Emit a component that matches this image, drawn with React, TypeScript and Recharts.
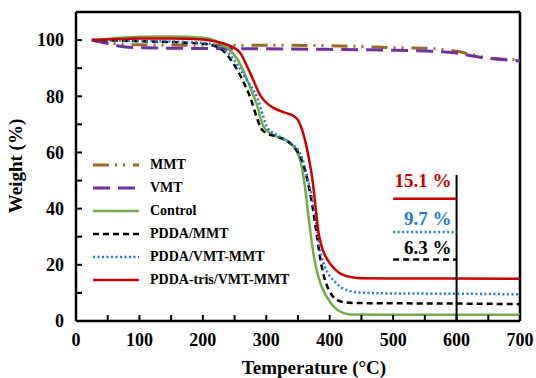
import { LineChart, Line, XAxis, YAxis, ReferenceLine } from "recharts";

// TGA curves, temperature (°C) vs weight (%)
const mmtTemp = [25, 50, 75, 100, 200, 300, 400, 450, 500, 550, 600, 625, 650, 675, 700];
const mmtWeight = [100, 99, 98.5, 98.3, 98.2, 98.2, 98, 97.7, 97.3, 97.1, 96, 94.8, 93.6, 93.2, 93];

const vmtTemp = [25, 50, 75, 100, 200, 300, 400, 500, 550, 600, 625, 650, 675, 700];
const vmtWeight = [100, 98.8, 97.6, 97.3, 97, 96.9, 96.7, 96.4, 96.1, 95.4, 94.3, 93.5, 93, 92.6];

const controlTemp = [25, 50, 100, 150, 200, 220, 240, 255, 265, 275, 285, 295, 305, 315, 330, 345, 355, 362, 366, 370, 374, 379, 386, 397, 410, 422, 435, 500, 600, 700];
const controlWeight = [100, 100.4, 101.2, 101.3, 100.8, 99.8, 97, 93, 88.5, 83, 77, 69.5, 67, 65.8, 64.5, 61.5, 56, 46, 38, 31, 24.5, 18.5, 13, 8, 4.3, 2.8, 2.3, 2.2, 2.2, 2.2];

const pddaMmtTemp = [25, 50, 100, 150, 200, 220, 235, 250, 262, 275, 285, 292, 302, 315, 325, 340, 350, 358, 365, 372, 380, 386, 392, 400, 412, 425, 440, 500, 600, 700];
const pddaMmtWeight = [100, 99.9, 99.6, 99.3, 98.7, 97.8, 95.5, 91, 86, 79.4, 72.5, 68.5, 66.7, 65.7, 64.9, 62.8, 60, 56, 50, 42, 30, 21, 15, 10.5, 7.4, 6.6, 6.4, 6.3, 6.2, 6.0];

const pddaVmtTemp = [25, 50, 100, 150, 200, 220, 240, 255, 270, 286, 295, 302, 315, 327, 340, 351, 358, 365, 372, 378, 385, 393, 400, 406, 418, 428, 440, 460, 500, 600, 700];
const pddaVmtWeight = [100, 99.9, 99.7, 99.5, 99, 98.2, 95.5, 91, 85.5, 79.4, 73, 68.8, 66.5, 65, 63, 60.6, 57, 51, 44, 36, 25, 19, 16, 14.5, 12, 11, 10.3, 10, 9.8, 9.7, 9.5];

const trisTemp = [25, 50, 100, 150, 200, 220, 240, 259, 270, 280, 290, 302, 312, 322, 333, 343, 350, 357, 362, 367, 373, 378, 382, 388, 397, 408, 422, 435, 449, 500, 600, 700];
const trisWeight = [100, 100.2, 100.6, 100.6, 100.2, 99.5, 98.2, 95.4, 90.5, 85.5, 80.5, 77.3, 75.8, 74.8, 73.9, 73, 71.5, 67.7, 63.5, 58, 50, 40, 32, 26, 21.6, 18.5, 16.3, 15.6, 15.2, 15.1, 15.1, 15.0];

// residue markers at 600 °C
const residueLabels = ["15.1 %", "9.7 %", "6.3 %"];
const residueMarkY = [43.5, 31.7, 21.9];

const xTicks = [0, 50, 100, 150, 200, 250, 300, 350, 400, 450, 500, 550, 600, 650, 700];
const yTicks = [0, 10, 20, 30, 40, 50, 60, 70, 80, 90, 100];

const FONT = "'Liberation Serif', 'Times New Roman', serif";

const toRows = (t: number[], w: number[]) => t.map((x, i) => ({ t: x, w: w[i] }));

const series = [
  { name: "MMT", data: toRows(mmtTemp, mmtWeight), color: "#9A6A1F", dash: "16 6 2 6 2 8", width: 3 },
  { name: "VMT", data: toRows(vmtTemp, vmtWeight), color: "#7030A0", dash: "17 8", width: 3 },
  { name: "Control", data: toRows(controlTemp, controlWeight), color: "#70AD47", dash: undefined, width: 2.5 },
  { name: "PDDA/MMT", data: toRows(pddaMmtTemp, pddaMmtWeight), color: "#000000", dash: "6 4", width: 2.5 },
  { name: "PDDA/VMT-MMT", data: toRows(pddaVmtTemp, pddaVmtWeight), color: "#1C7CD5", dash: "2 2.5", width: 2.5 },
  { name: "PDDA-tris/VMT-MMT", data: toRows(trisTemp, trisWeight), color: "#CC0000", dash: undefined, width: 2.5 },
];

// markers: tris, vmt-mmt, mmt
const markers = [series[5], series[4], series[3]].map((s, i) => ({
  label: residueLabels[i],
  y: residueMarkY[i],
  color: s.color,
  dash: s.dash,
  gap: [12, 7, 5][i],
}));

function XTick(props: any) {
  const { x, y, payload } = props;
  const axisY = y - 12;
  const major = payload.value % 100 === 0;
  return (
    <g>
      <line x1={x} x2={x} y1={axisY} y2={axisY - 6} stroke="#000" strokeWidth={2} />
      {major && (
        <text x={x} y={y} dy="0.71em" textAnchor="middle" fontFamily={FONT} fontWeight="bold" fontSize={18} fill="#000">
          {payload.value}
        </text>
      )}
    </g>
  );
}

function YTick(props: any) {
  const { x, y, payload } = props;
  const axisX = x + 12;
  const major = payload.value % 20 === 0;
  return (
    <g>
      <line x1={axisX} x2={axisX + 6} y1={y} y2={y} stroke="#000" strokeWidth={2} />
      {major && (
        <text x={x} y={y} dy="0.35em" textAnchor="end" fontFamily={FONT} fontWeight="bold" fontSize={18} fill="#000">
          {payload.value}
        </text>
      )}
    </g>
  );
}

function LegendBox() {
  return (
    <div style={{ position: "absolute", left: 93, top: 153, fontFamily: FONT, fontWeight: "bold", fontSize: 14 }}>
      {series.map((s) => (
        <div key={s.name} style={{ display: "flex", alignItems: "center", height: 23 }}>
          <svg width={57} height={10} style={{ display: "block" }}>
            <line x1={0} x2={46} y1={5} y2={5} stroke={s.color} strokeWidth={s.width} strokeDasharray={s.dash} />
          </svg>
          <span style={{ lineHeight: "14px" }}>{s.name}</span>
        </div>
      ))}
    </div>
  );
}

export default function App() {
  return (
    <div style={{ position: "absolute", left: 0, top: 0, width: 536, height: 378, background: "#fff" }}>
      <LineChart width={536} height={378} margin={{ top: 12, right: 16, bottom: 0, left: 6 }}>
        <XAxis
          type="number"
          dataKey="t"
          domain={[0, 700]}
          ticks={xTicks}
          interval={0}
          height={57}
          tickSize={0}
          tickMargin={12}
          tick={<XTick />}
          axisLine={{ stroke: "#000", strokeWidth: 2.5 }}
          label={() => (
            <text x={314} y={374} textAnchor="middle" fontFamily={FONT} fontWeight="bold" fontSize={19} fill="#000">
              Temperature (°C)
            </text>
          )}
        />
        <YAxis
          type="number"
          domain={[0, 110]}
          ticks={yTicks}
          interval={0}
          width={70}
          tickSize={0}
          tickMargin={12}
          tick={<YTick />}
          axisLine={{ stroke: "#000", strokeWidth: 2.5 }}
          label={() => (
            <text x={22} y={166} transform="rotate(-90 22 166)" textAnchor="middle" fontFamily={FONT} fontWeight="bold" fontSize={19} fill="#000">
              Weight (%)
            </text>
          )}
        />
        <ReferenceLine y={110} stroke="#000" strokeWidth={2.5} ifOverflow="visible" />
        <ReferenceLine x={700} stroke="#000" strokeWidth={2.5} ifOverflow="visible" />
        {series.map((s) => (
          <Line
            key={s.name}
            data={s.data}
            dataKey="w"
            name={s.name}
            type="monotone"
            stroke={s.color}
            strokeWidth={s.width}
            strokeDasharray={s.dash}
            dot={false}
            activeDot={false}
            isAnimationActive={false}
          />
        ))}
        <ReferenceLine segment={[{ x: 600, y: 0 }, { x: 600, y: 52 }]} stroke="#000" strokeWidth={2} />
        {markers.map((m) => (
          <ReferenceLine
            key={m.label}
            segment={[{ x: 500, y: m.y }, { x: 600, y: m.y }]}
            stroke={m.color}
            strokeWidth={2.5}
            strokeDasharray={m.dash}
            label={(p: any) => {
              const vb = p.viewBox || {};
              return (
                <text
                  x={(vb.x ?? 0) + (vb.width ?? 0) - 5}
                  y={(vb.y ?? 0) - m.gap}
                  textAnchor="end"
                  fontFamily={FONT}
                  fontWeight="bold"
                  fontSize={19}
                  fill={m.color}
                >
                  {m.label}
                </text>
              );
            }}
          />
        ))}
      </LineChart>
      <LegendBox />
    </div>
  );
}
